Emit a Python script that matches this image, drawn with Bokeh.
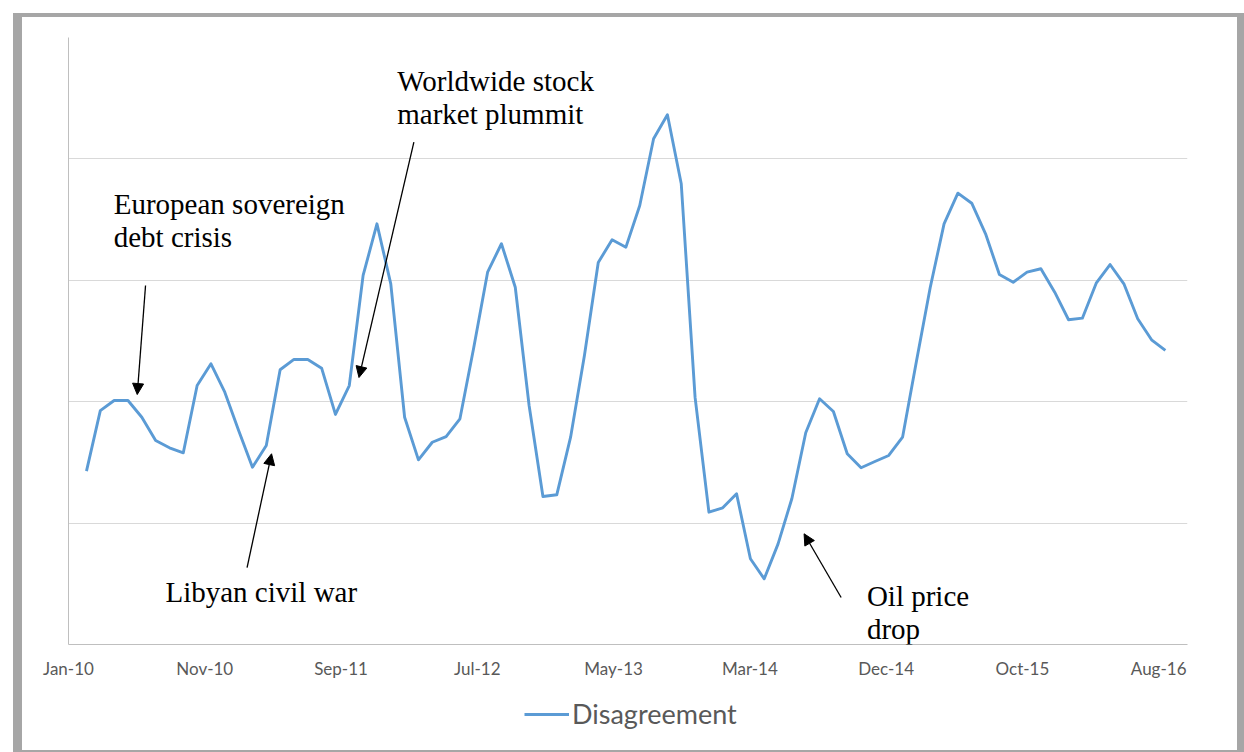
from bokeh.plotting import figure
from bokeh.layouts import column
from bokeh.models import (Range1d, FixedTicker, Arrow, NormalHead, Label,
                          Legend, LegendItem)
from bokeh.embed import file_html
from bokeh.resources import INLINE

# Monthly disagreement index, Feb 2010 .. Aug 2016
disagreement = [
    1.428, 1.927, 2.010, 2.010, 1.872, 1.680, 1.620, 1.579, 2.133, 2.312,
    2.078, 1.763, 1.460, 1.639, 2.263, 2.348, 2.348, 2.276, 1.895, 2.133,
    3.040, 3.465, 2.971, 1.872, 1.521, 1.666, 1.713, 1.859, 2.447, 3.067,
    3.301, 2.943, 1.969, 1.219, 1.233, 1.708, 2.381, 3.147, 3.334, 3.273,
    3.616, 4.166, 4.363, 3.795, 2.035, 1.090, 1.126, 1.241, 0.706, 0.541,
    0.829, 1.203, 1.744, 2.024, 1.919, 1.571, 1.456, 1.507, 1.557, 1.708,
    2.331, 2.941, 3.465, 3.718, 3.635, 3.383, 3.048, 2.984, 3.067, 3.095,
    2.902, 2.675, 2.688, 2.976, 3.130, 2.971, 2.683, 2.510, 2.422,
]
months = list(range(len(disagreement)))

tick_labels = ["Jan-10", "Nov-10", "Sep-11", "Jul-12", "May-13",
               "Mar-14", "Dec-14", "Oct-15", "Aug-16"]

# event notes: text lines, left x, first-line baseline
note_lines = [
    ["Worldwide stock", "market plummit"],
    ["European sovereign", "debt crisis"],
    ["Libyan civil war"],
    ["Oil price", "drop"],
]
note_x = [22.47, 1.97, 5.71, 56.42]
note_y = [4.645, 3.630, 0.430, 0.403]

# arrows: (x_start, y_start) -> (x_end, y_end)
arrow_start_x = [23.67, 4.27, 11.61, 54.56]
arrow_start_y = [4.138, 2.957, 0.634, 0.387]
arrow_end_x = [19.70, 3.67, 13.38, 51.88]
arrow_end_y = [2.199, 2.059, 1.571, 0.912]

series_name = "Disagreement"

LINE_BLUE = "#5B9BD5"
GREY_TEXT = "#595959"
AXIS_GREY = "#bfbfbf"
GRID_GREY = "#d9d9d9"
FRAME_GREY = "#a6a6a6"

x_start, x_end = -1.3, 79.6
tick_step = 9.852
tick_pos = [round(x_start + k * tick_step, 3) for k in range(len(tick_labels))]


def band(left, top, w, h):
    g = f"linear-gradient({FRAME_GREY}, {FRAME_GREY})"
    return f"{g} {left}px {top}px / {w}px {h}px no-repeat"


# grey chart frame painted behind transparent canvases
frame_css = ", ".join([
    band(13, 13, 9, 739), band(13, 13, 1231, 4),
    band(1237, 13, 7, 739), band(13, 750, 1231, 2),
]) + ", white"

# ---- main chart -------------------------------------------------------
p = figure(width=1244, height=690, output_backend="svg", toolbar_location=None,
           x_range=Range1d(x_start, x_end), y_range=Range1d(0, 5),
           min_border_left=68, min_border_right=57, min_border_top=37,
           min_border_bottom=46)
p.background_fill_color = "white"
p.border_fill_alpha = 0
p.outline_line_color = None

line_style = dict(line_color=LINE_BLUE, line_width=2.9, line_join="round")
p.line(months, disagreement, **line_style)

# x axis: date labels, no tick marks
p.xaxis.ticker = FixedTicker(ticks=tick_pos)
p.xaxis.major_label_overrides = {t: s for t, s in zip(tick_pos, tick_labels)}
p.xaxis.major_tick_line_color = None
p.xaxis.minor_tick_line_color = None
p.xaxis.axis_line_color = AXIS_GREY
p.xaxis.major_label_standoff = 7
p.xaxis.major_label_text_font = "Lato"
p.xaxis.major_label_text_font_size = "17px"
p.xaxis.major_label_text_color = GREY_TEXT
p.xgrid.visible = False

# y axis: line only, horizontal guides from the grid
p.yaxis.ticker = FixedTicker(ticks=[])
p.yaxis.axis_line_color = AXIS_GREY
p.yaxis.major_tick_line_color = None
p.yaxis.minor_tick_line_color = None
p.ygrid.ticker = FixedTicker(ticks=[1, 2, 3, 4, 5])
p.ygrid.grid_line_color = GRID_GREY
p.ygrid.grid_line_width = 1

for lines, x, y in zip(note_lines, note_x, note_y):
    for k, txt in enumerate(lines):
        p.add_layout(Label(x=x, y=y - k * 0.272, text=txt,
                           text_font="Liberation Serif", text_font_size="29px",
                           text_color="black", text_baseline="alphabetic"))

for xs, ys, xe, ye in zip(arrow_start_x, arrow_start_y, arrow_end_x, arrow_end_y):
    p.add_layout(Arrow(x_start=xs, y_start=ys, x_end=xe, y_end=ye,
                       line_color="black", line_width=1.3,
                       end=NormalHead(size=11, fill_color="black",
                                      line_color="black", line_width=1)))

# ---- legend strip under the chart ------------------------------------
q = figure(width=1244, height=62, output_backend="svg", toolbar_location=None,
           x_axis_type=None, y_axis_type=None,
           x_range=Range1d(0, 1), y_range=Range1d(0, 1),
           min_border=0)
q.background_fill_alpha = 0
q.border_fill_alpha = 0
q.outline_line_color = None
q.xgrid.visible = False
q.ygrid.visible = False
# legend key only: a single undefined point draws nothing in the strip
key = q.line([float("nan")], [float("nan")], **line_style)

legend = Legend(items=[LegendItem(label=series_name, renderers=[key])],
                orientation="horizontal", location=(456, 22),
                border_line_color=None, background_fill_alpha=0,
                label_text_font="Lato", label_text_font_size="27px",
                label_text_color=GREY_TEXT, glyph_width=45, glyph_height=20,
                label_standoff=3, padding=4, margin=0)
q.add_layout(legend)

page = column(p, q, spacing=0, styles={"background": frame_css})

open("out.html", "w").write(file_html(page, INLINE))
